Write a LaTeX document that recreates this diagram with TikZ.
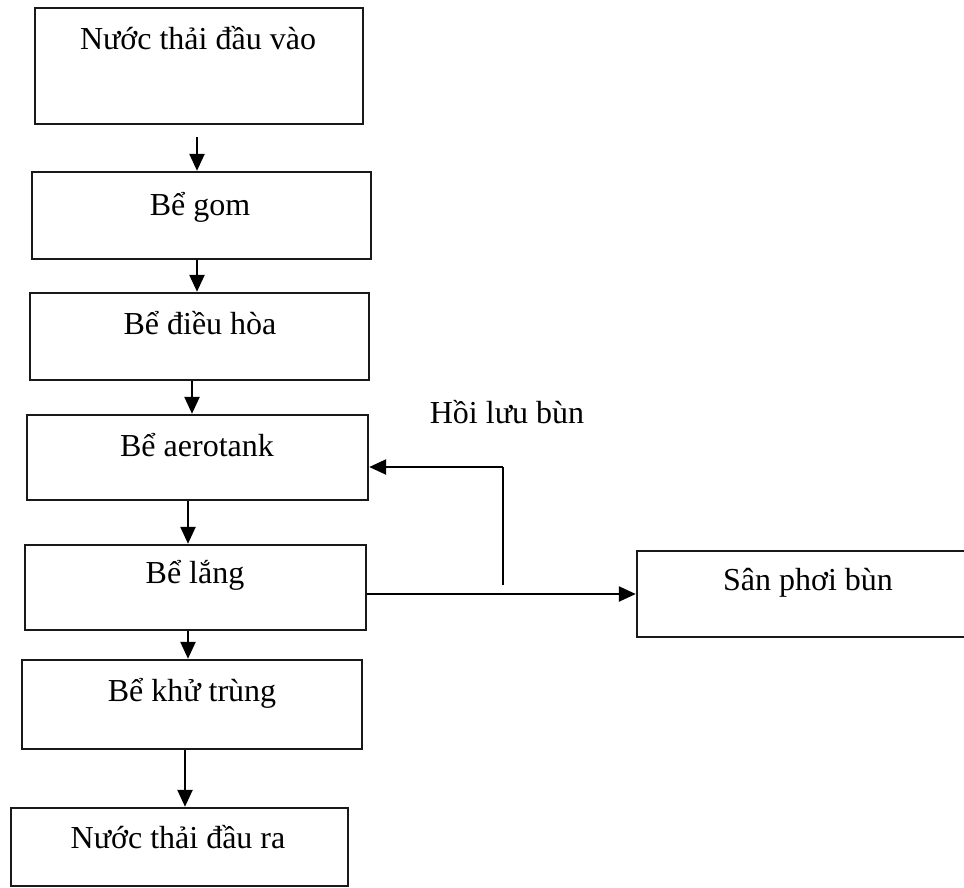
\documentclass[tikz,border=0pt]{standalone}
\usepackage{fontspec}
\setmainfont{Liberation Serif}
\usetikzlibrary{arrows.meta}
\begin{document}
\begin{tikzpicture}[x=1pt,y=-1pt,
  box/.style={draw=black!90,line width=2.4pt,rectangle,inner sep=0pt},
  lbl/.style={font=\fontsize{32}{37}\selectfont,inner sep=0pt,anchor=center},
  arr/.style={line width=2.4pt,-{Triangle[length=17pt,width=15pt]}},
  ln/.style={line width=2.4pt}]
\useasboundingbox (0,0) rectangle (964,887);
\clip (0,0) rectangle (964,887);
% boxes
\node[box,minimum width=328pt,minimum height=116pt] (b1) at (199,66) {};
\node[box,minimum width=339pt,minimum height=87pt] (b2) at (201.5,215.5) {};
\node[box,minimum width=339pt,minimum height=87pt] (b3) at (199.5,336.5) {};
\node[box,minimum width=341pt,minimum height=85pt] (b4) at (197.5,457.5) {};
\node[box,minimum width=341pt,minimum height=85pt] (b5) at (195.5,587.5) {};
\node[box,minimum width=340pt,minimum height=89pt] (b6) at (192,704.5) {};
\node[box,minimum width=337pt,minimum height=78pt] (b7) at (179.5,847) {};
\node[box,minimum width=350pt,minimum height=86pt] (b8) at (812,594) {};
% texts
\node[lbl] (t1) at (198,38) {Nước thải đầu vào};
\node[lbl] (t2) at (200,207) {Bể gom};
\node[lbl] (t3) at (200,323) {Bể điều hòa};
\node[lbl] (t4) at (197,445) {Bể aerotank};
\node[lbl] (t5) at (195,575) {Bể lắng};
\node[lbl] (t6) at (192,693) {Bể khử trùng};
\node[lbl] (t7) at (178,837) {Nước thải đầu ra};
\node[lbl] (t8) at (808,583) {Sân phơi bùn};
\node[lbl] (t9) at (507,412) {Hồi lưu bùn};
% vertical arrows
\draw[arr] (197,137) -- (b2.north -| 197,0);
\draw[arr] (b2.south -| 197,0) -- (b3.north -| 197,0);
\draw[arr] (b3.south -| 192,0) -- (b4.north -| 192,0);
\draw[arr] (b4.south -| 188,0) -- (b5.north -| 188,0);
\draw[arr] (b5.south -| 188,0) -- (b6.north -| 188,0);
\draw[arr] (b6.south -| 185,0) -- (b7.north -| 185,0);
% sludge line
\coordinate (j1) at (503,585);
\coordinate (j2) at (503,467);
\draw[arr] (b5.east |- 0,594) -- (b8.west |- 0,594);
\draw[ln] (j1) -- (j2);
\draw[arr] (j2) -- (b4.east |- j2);
\end{tikzpicture}
\end{document}
